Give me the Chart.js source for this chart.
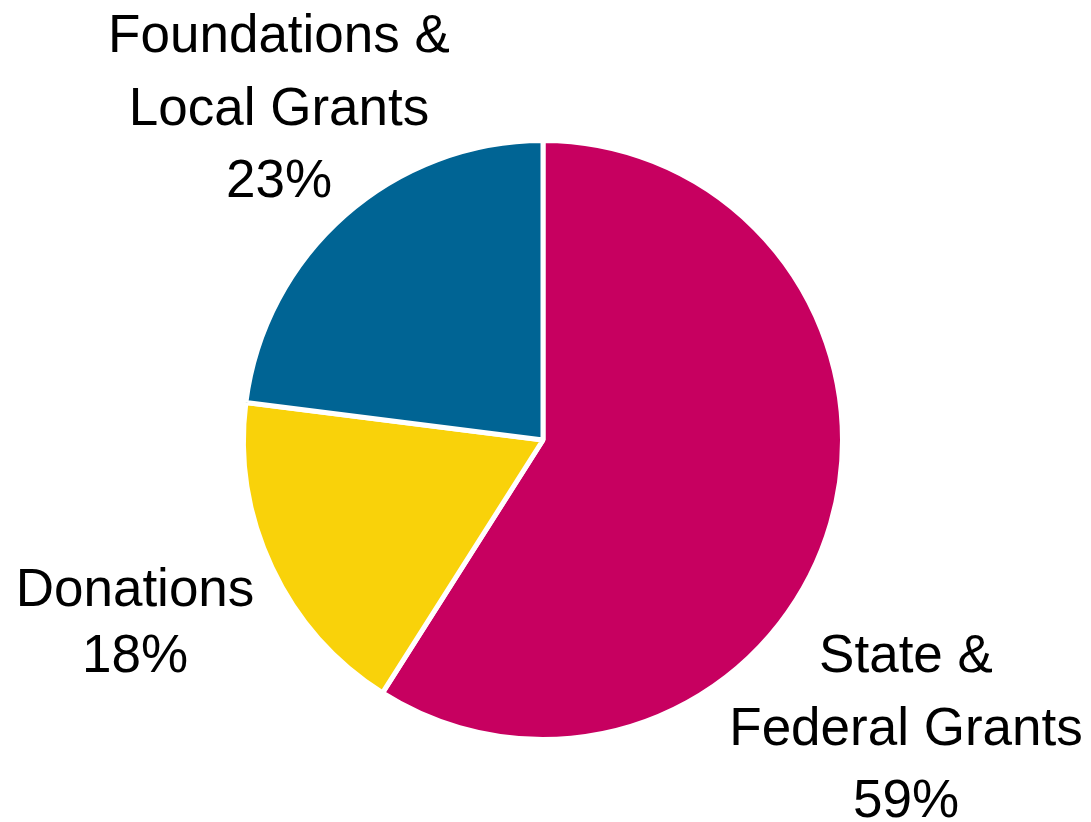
<!DOCTYPE html>
<html>
<head>
<meta charset="utf-8">
<script src="https://cdn.jsdelivr.net/npm/chart.js@4.4.1/dist/chart.umd.min.js"></script>
<style>
  html, body { margin: 0; padding: 0; background: #fff; }
  #wrap { width: 1091px; height: 822px; position: relative; }
</style>
</head>
<body>
<div id="wrap"><canvas id="myChart"></canvas></div>
<script>
// chart data
const categories = ['State & Federal Grants', 'Donations', 'Foundations & Local Grants'];
const shares = [59, 18, 23];
const sliceColors = ['#C70060', '#F9D20A', '#006494'];

// label lines for each slice (the % line is added from shares)
const labelLines = [
    ['State &', 'Federal Grants'],
    ['Donations'],
    ['Foundations &', 'Local Grants']
];

// where each label sits, offset from the pie center: [dx, first baseline dy, line gap]
const labelSpots = [
    [363, 232, 72.5],
    [-408, 166, 66],
    [-264, -388, 72.5]
];

const outsideLabels = {
    id: 'outsideLabels',
    afterDraw(chart) {
        const ctx = chart.ctx;
        const arc = chart.getDatasetMeta(0).data[0];
        const cx = arc.x;
        const cy = arc.y;
        ctx.save();
        ctx.fillStyle = '#000';
        ctx.font = '53px "Liberation Sans", Arial, sans-serif';
        ctx.textAlign = 'center';
        ctx.textBaseline = 'alphabetic';
        categories.forEach(function (cat, i) {
            const lines = labelLines[i].concat([shares[i] + '%']);
            const spot = labelSpots[i];
            lines.forEach(function (txt, j) {
                ctx.fillText(txt, cx + spot[0], cy + spot[1] + j * spot[2]);
            });
        });
        ctx.restore();
    }
};

const config = {
    type: 'pie',
    data: {
        labels: categories,
        datasets: [{
            data: shares,
            backgroundColor: sliceColors,
            borderColor: '#ffffff',
            borderWidth: 5,
            hoverOffset: 0
        }]
    },
    options: {
        responsive: true,
        maintainAspectRatio: false,
        animation: false,
        events: [],
        layout: {
            padding: { top: 138, bottom: 80, left: 0, right: 5 }
        },
        plugins: {
            legend: { display: false },
            tooltip: { enabled: false }
        }
    },
    plugins: [outsideLabels]
};

const myChart = new Chart(document.getElementById('myChart'), config);
</script>
</body>
</html>
